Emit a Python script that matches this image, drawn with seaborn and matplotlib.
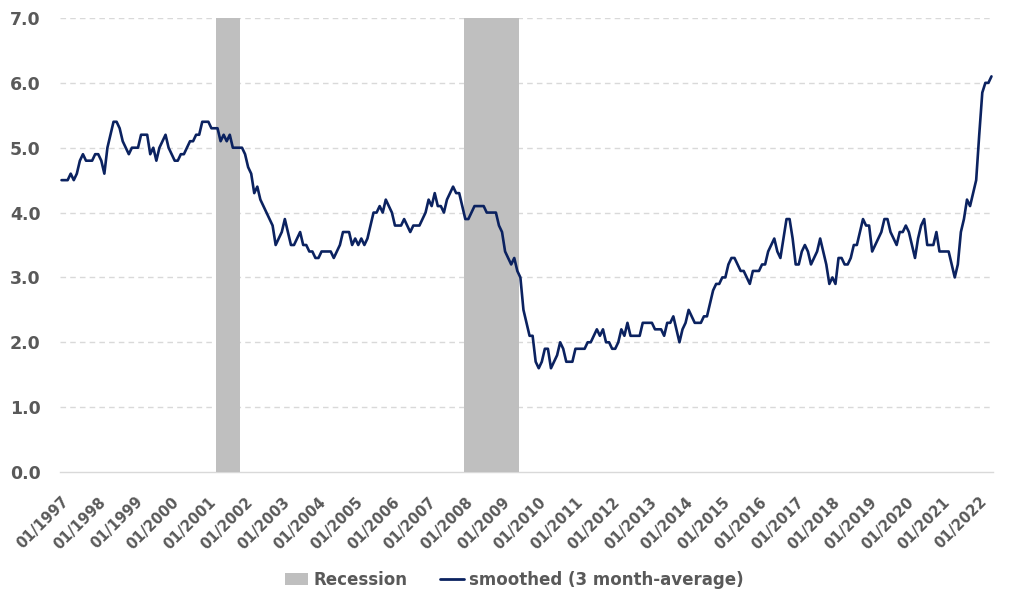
import matplotlib
matplotlib.use("Agg")
import matplotlib.pyplot as plt
import seaborn as sns
import pandas as pd
import numpy as np
from matplotlib.patches import Patch
from matplotlib.lines import Line2D

# ---------------- data ----------------
start_month = "1997-01"
smoothed = [
    4.5, 4.5, 4.5, 4.6, 4.5, 4.6, 4.8, 4.9, 4.8, 4.8, 4.8, 4.9,   # 1997
    4.9, 4.8, 4.6, 5.0, 5.2, 5.4, 5.4, 5.3, 5.1, 5.0, 4.9, 5.0,   # 1998
    5.0, 5.0, 5.2, 5.2, 5.2, 4.9, 5.0, 4.8, 5.0, 5.1, 5.2, 5.0,   # 1999
    4.9, 4.8, 4.8, 4.9, 4.9, 5.0, 5.1, 5.1, 5.2, 5.2, 5.4, 5.4,   # 2000
    5.4, 5.3, 5.3, 5.3, 5.1, 5.2, 5.1, 5.2, 5.0, 5.0, 5.0, 5.0,   # 2001
    4.9, 4.7, 4.6, 4.3, 4.4, 4.2, 4.1, 4.0, 3.9, 3.8, 3.5, 3.6,   # 2002
    3.7, 3.9, 3.7, 3.5, 3.5, 3.6, 3.7, 3.5, 3.5, 3.4, 3.4, 3.3,   # 2003
    3.3, 3.4, 3.4, 3.4, 3.4, 3.3, 3.4, 3.5, 3.7, 3.7, 3.7, 3.5,   # 2004
    3.6, 3.5, 3.6, 3.5, 3.6, 3.8, 4.0, 4.0, 4.1, 4.0, 4.2, 4.1,   # 2005
    4.0, 3.8, 3.8, 3.8, 3.9, 3.8, 3.7, 3.8, 3.8, 3.8, 3.9, 4.0,   # 2006
    4.2, 4.1, 4.3, 4.1, 4.1, 4.0, 4.2, 4.3, 4.4, 4.3, 4.3, 4.1,   # 2007
    3.9, 3.9, 4.0, 4.1, 4.1, 4.1, 4.1, 4.0, 4.0, 4.0, 4.0, 3.8,   # 2008
    3.7, 3.4, 3.3, 3.2, 3.3, 3.1, 3.0, 2.5, 2.3, 2.1, 2.1, 1.7,   # 2009
    1.6, 1.7, 1.9, 1.9, 1.6, 1.7, 1.8, 2.0, 1.9, 1.7, 1.7, 1.7,   # 2010
    1.9, 1.9, 1.9, 1.9, 2.0, 2.0, 2.1, 2.2, 2.1, 2.2, 2.0, 2.0,   # 2011
    1.9, 1.9, 2.0, 2.2, 2.1, 2.3, 2.1, 2.1, 2.1, 2.1, 2.3, 2.3,   # 2012
    2.3, 2.3, 2.2, 2.2, 2.2, 2.1, 2.3, 2.3, 2.4, 2.2, 2.0, 2.2,   # 2013
    2.3, 2.5, 2.4, 2.3, 2.3, 2.3, 2.4, 2.4, 2.6, 2.8, 2.9, 2.9,   # 2014
    3.0, 3.0, 3.2, 3.3, 3.3, 3.2, 3.1, 3.1, 3.0, 2.9, 3.1, 3.1,   # 2015
    3.1, 3.2, 3.2, 3.4, 3.5, 3.6, 3.4, 3.3, 3.6, 3.9, 3.9, 3.6,   # 2016
    3.2, 3.2, 3.4, 3.5, 3.4, 3.2, 3.3, 3.4, 3.6, 3.4, 3.2, 2.9,   # 2017
    3.0, 2.9, 3.3, 3.3, 3.2, 3.2, 3.3, 3.5, 3.5, 3.7, 3.9, 3.8,   # 2018
    3.8, 3.4, 3.5, 3.6, 3.7, 3.9, 3.9, 3.7, 3.6, 3.5, 3.7, 3.7,   # 2019
    3.8, 3.7, 3.5, 3.3, 3.6, 3.8, 3.9, 3.5, 3.5, 3.5, 3.7, 3.4,   # 2020
    3.4, 3.4, 3.4, 3.2, 3.0, 3.2, 3.7, 3.9, 4.2, 4.1, 4.3, 4.5,   # 2021
    5.2, 5.85, 6.0, 6.0, 6.1,                                     # 2022
]
recession_start = ["2001-04", "2008-01"]
recession_end = ["2001-11", "2009-06"]
recession_value = 7.0
tick_labels = ["01/1997", "01/1998", "01/1999", "01/2000", "01/2001", "01/2002",
               "01/2003", "01/2004", "01/2005", "01/2006", "01/2007", "01/2008",
               "01/2009", "01/2010", "01/2011", "01/2012", "01/2013", "01/2014",
               "01/2015", "01/2016", "01/2017", "01/2018", "01/2019", "01/2020",
               "01/2021", "01/2022"]
y_ticks = [0, 1, 2, 3, 4, 5, 6, 7]

# ---------------- frame ----------------
dates = pd.date_range(start_month, periods=len(smoothed), freq="MS")
df = pd.DataFrame({"date": dates, "idx": np.arange(len(smoothed)), "smoothed": smoothed})
rec = np.zeros(len(df))
for s, e in zip(recession_start, recession_end):
    mask = (df["date"] >= pd.Timestamp(s)) & (df["date"] <= pd.Timestamp(e))
    rec[mask.values] = recession_value
df["recession"] = rec
tick_pos = [df.index[df["date"] == pd.Timestamp(t[3:] + "-" + t[:2])][0] for t in tick_labels]

# ---------------- style ----------------
sns.set_theme(style="white")
plt.rcParams["font.family"] = ["DejaVu Sans"]
grey_text = "#595959"
grid_col = "#d9d9d9"
navy = "#0b2260"
rec_col = "#bfbfbf"

fig = plt.figure(figsize=(10.24, 6.04), dpi=100)
ax = fig.add_axes([60 / 1024, 1 - 472 / 604, (993 - 60) / 1024, (472 - 18) / 604])

ax.bar(df["idx"], df["recession"], width=1.0, color=rec_col, linewidth=0, zorder=1)
sns.lineplot(data=df, x="idx", y="smoothed", ax=ax, color=navy, linewidth=1.9, zorder=3)

ax.set_xlim(-0.5, len(df) - 0.5)
ax.set_ylim(0, 7)
ax.set_yticks(y_ticks)
ax.set_yticklabels([f"{v:.1f}" for v in y_ticks], fontsize=12.5, fontweight="bold", color=grey_text)
ax.set_xticks(tick_pos)
ax.set_xticklabels(tick_labels, rotation=45, ha="right", va="top", rotation_mode="anchor",
                   fontsize=10.5, fontweight="bold", color=grey_text)
ax.tick_params(axis="y", length=0, pad=14)
ax.tick_params(axis="x", length=6, width=1, color=grid_col, pad=10, direction="out")
ax.set_xlabel("")
ax.set_ylabel("")

for v in y_ticks[1:]:
    ax.axhline(v, color=grid_col, linestyle=(0, (4, 3)), linewidth=1, zorder=0)

for side in ["left", "right", "top"]:
    ax.spines[side].set_visible(False)
ax.spines["bottom"].set_color(grid_col)
ax.spines["bottom"].set_linewidth(1)
ax.spines["bottom"].set_zorder(0)

handles = [Patch(facecolor=rec_col, edgecolor="none", label="Recession"),
           Line2D([0], [0], color=navy, linewidth=2, label="smoothed (3 month-average)")]
leg = fig.legend(handles=handles, loc="center", bbox_to_anchor=(514 / 1024, 1 - 580 / 604),
                 ncol=2, frameon=False, handlelength=1.4, handletextpad=0.3, columnspacing=2.0,
                 prop={"size": 12, "weight": "bold"})
for t in leg.get_texts():
    t.set_color(grey_text)

fig.savefig("out.png", dpi=100)
